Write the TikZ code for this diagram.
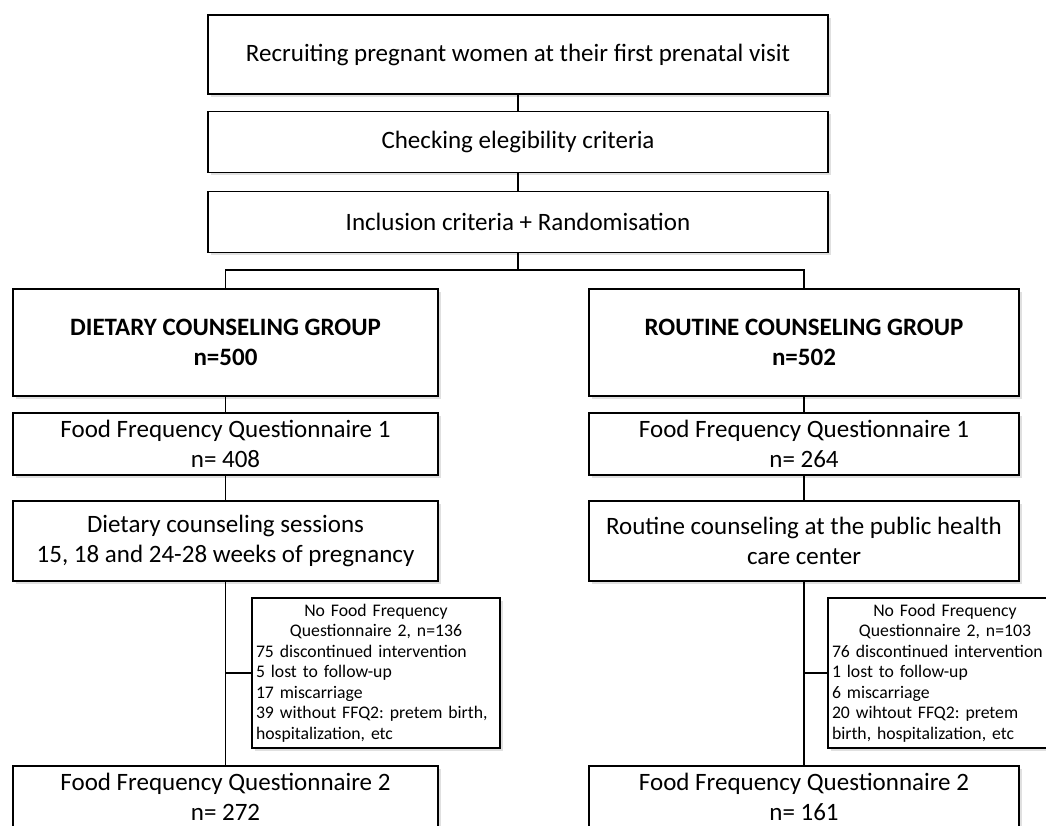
\documentclass[tikz,border=0pt]{standalone}
\usepackage{fontspec}
\setmainfont{Carlito}
\usetikzlibrary{shadows}
\begin{document}
\frenchspacing
\begin{tikzpicture}[x=1pt,y=1pt,
  box/.style={draw,fill=white,line width=1.8pt,inner sep=2pt,outer sep=0pt,align=center,
    font=\fontsize{25}{30}\selectfont,
    drop shadow={shadow xshift=2.5pt,shadow yshift=-2.5pt,fill=black!20,opacity=0.6}},
  sidebox/.style={draw,fill=white,line width=1.8pt,inner sep=4pt,outer sep=0pt,align=left,
    font=\fontsize{17.7}{20.5}\selectfont,
    drop shadow={shadow xshift=2.5pt,shadow yshift=-2.5pt,fill=black!20,opacity=0.6}},
  conn/.style={line width=1.8pt}]
\useasboundingbox (0,0) rectangle (1046,-825);
\clip (0,0) rectangle (1046,-825);
\fill[white] (0,0) rectangle (1046,-825);
\coordinate (split) at (518,-270);
% top boxes
\node[box,minimum width=620,minimum height=79] (t1) at (518,-54.5) {Recruiting pregnant women at their first prenatal visit};
\node[box,minimum width=620,minimum height=61] (t2) at (518,-142) {Checking elegibility criteria};
\node[box,minimum width=620,minimum height=61] (t3) at (518,-222) {Inclusion criteria + Randomisation};
% left column
\node[box,minimum width=425,minimum height=107,font=\fontsize{25}{30}\selectfont\bfseries] (lg) at (225.5,-342.5) {DIETARY COUNSELING GROUP\\n=500};
\node[box,minimum width=425,minimum height=62] (lf1) at (225.5,-444) {Food Frequency Questionnaire 1\\n= 408};
\node[box,minimum width=425,minimum height=80] (ls) at (225.5,-541) {Dietary counseling sessions\\15, 18 and 24-28 weeks of pregnancy};
\node[box,minimum width=425,minimum height=62] (lf2) at (225.5,-797) {Food Frequency Questionnaire 2\\n= 272};
\node[sidebox,minimum width=248,minimum height=150,text width=240] (lx) at (376,-673) {\makebox[240pt]{No Food Frequency}\\\makebox[240pt]{Questionnaire 2, n=136}\\75 discontinued intervention\\5 lost to follow-up\\17 miscarriage\\39 without FFQ2: pretem birth,\\hospitalization, etc};
% right column
\node[box,minimum width=430,minimum height=107,font=\fontsize{25}{30}\selectfont\bfseries] (rg) at (804,-342.5) {ROUTINE COUNSELING GROUP\\n=502};
\node[box,minimum width=430,minimum height=62] (rf1) at (804,-444) {Food Frequency Questionnaire 1\\n= 264};
\node[box,minimum width=430,minimum height=80] (rs) at (804,-541) {Routine counseling at the public health\\care center};
\node[box,minimum width=430,minimum height=62] (rf2) at (804,-797) {Food Frequency Questionnaire 2\\n= 161};
\node[sidebox,minimum width=234,minimum height=150,text width=226] (rx) at (945,-673) {\makebox[226pt]{No Food Frequency}\\\makebox[226pt]{Questionnaire 2, n=103}\\76 discontinued intervention\\1 lost to follow-up\\6 miscarriage\\20 wihtout FFQ2: pretem\\birth, hospitalization, etc};
% connectors
\draw[conn] (t1.south) -- (t2.north);
\draw[conn] (t2.south) -- (t3.north);
\draw[conn] (t3.south) -- (split);
\draw[conn] (lg.north) |- (split) -| (rg.north);
\draw[conn] (lg.south) -- (lf1.north);
\draw[conn] (lf1.south) -- (ls.north);
\draw[conn] (ls.south) -- (lf2.north);
\draw[conn] (ls.south |- lx.west) -- (lx.west);
\draw[conn] (rg.south) -- (rf1.north);
\draw[conn] (rf1.south) -- (rs.north);
\draw[conn] (rs.south) -- (rf2.north);
\draw[conn] (rs.south |- rx.west) -- (rx.west);
\end{tikzpicture}
\end{document}
